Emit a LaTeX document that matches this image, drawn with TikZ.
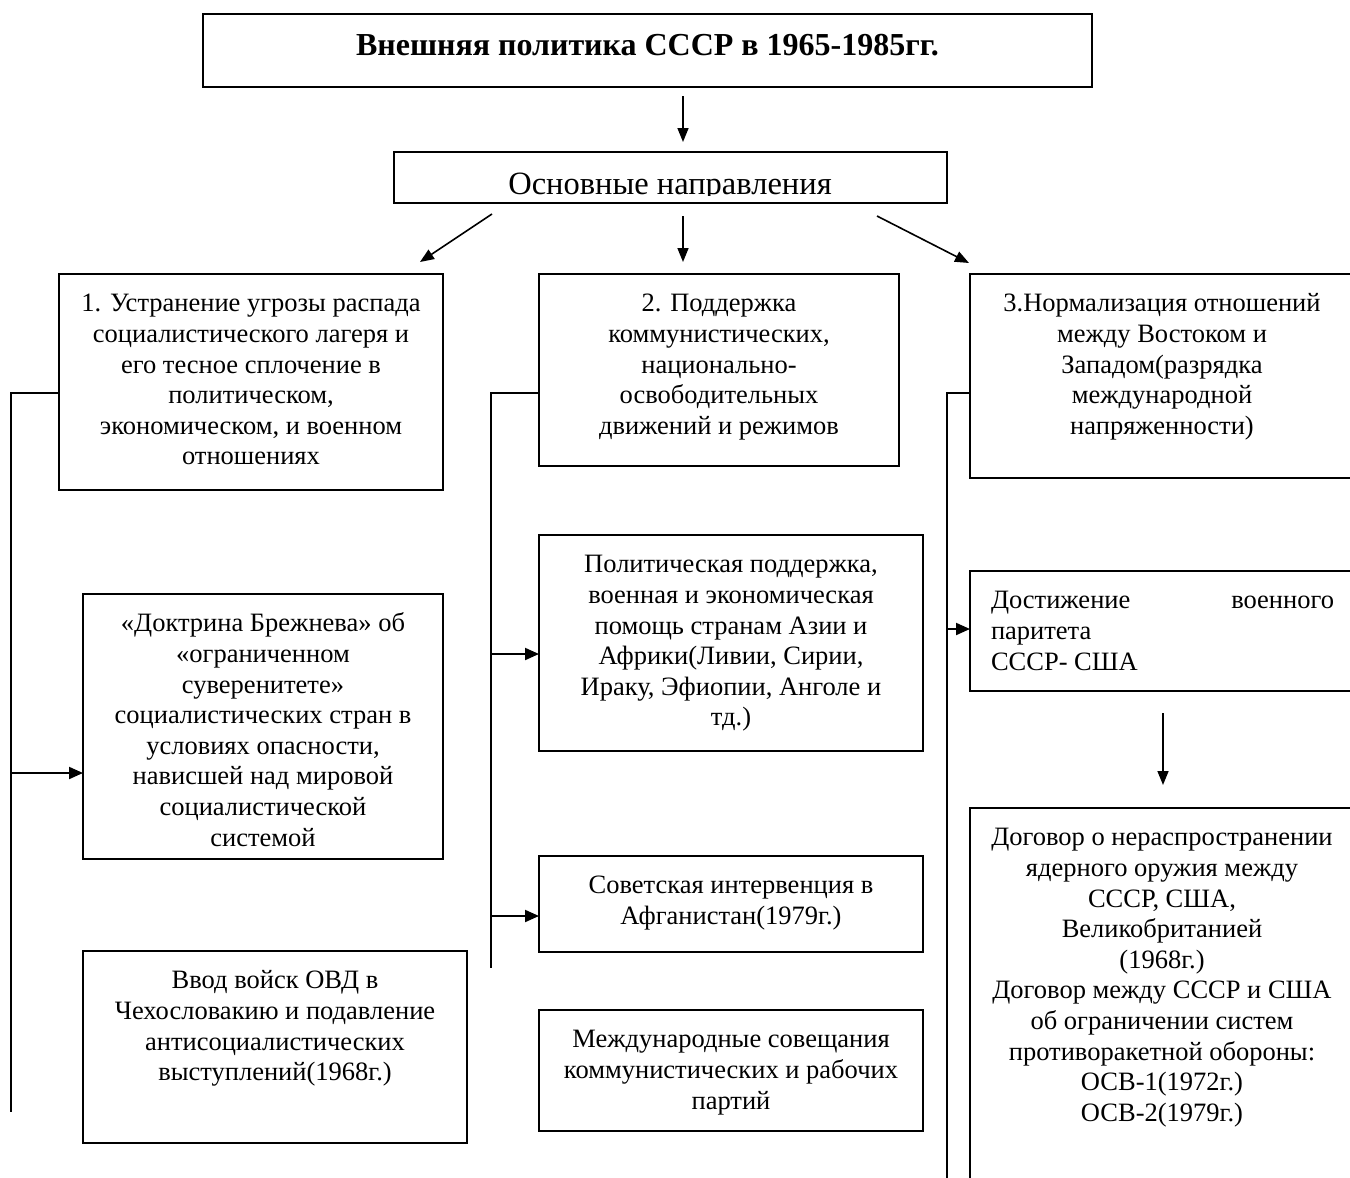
\documentclass[tikz,border=0pt]{standalone}
\usepackage{fontspec}
\setmainfont{Liberation Serif}
\usetikzlibrary{arrows.meta}
\newcommand{\fsz}{\fontsize{26.5}{30.6}\selectfont}
\newcommand{\bt}[3]{\parbox[c][#2][t]{#1}{\fsz\centering\vspace*{16.5pt}\strut #3}}
\begin{document}
\begin{tikzpicture}[x=1pt,y=-1pt,
  box/.style={draw, line width=2pt, inner sep=0pt, outer sep=0pt, anchor=north west},
  conn/.style={line width=2pt},
  arr/.style={line width=2pt, -{Triangle[length=14pt,width=12pt]}},
  arrthin/.style={line width=1.6pt, -{Triangle[length=14pt,width=11pt]}}]
\useasboundingbox (0,0) rectangle (1350,1178);
\fill[white] (0,0) rectangle (1350,1178);
% title
\node[box] (title) at (203,14) {\parbox[c][73pt][t]{889pt}{\fontsize{32}{36}\selectfont\bfseries\centering\vspace*{16pt}\strut Внешняя политика СССР в 1965-1985гг.}};
% main directions
\node[box, minimum width=553, minimum height=51] (osn) at (394,152) {};
\begin{scope}
\clip (394,152) rectangle (947,195);
\node[anchor=base, inner sep=0pt, font=\fontsize{32.5}{36}\selectfont] (osnt) at (670,194) {Основные направления};
\end{scope}
% top row
\node[box] (b1) at (59,274) {\bt{384pt}{216pt}{1. Устранение угрозы распада\\ социалистического лагеря и\\ его тесное сплочение в\\ политическом,\\ экономическом, и военном\\ отношениях}};
\node[box] (b2) at (539,274) {\bt{360pt}{192pt}{2. Поддержка\\ коммунистических,\\ национально-\\ освободительных\\ движений и режимов}};
\node[box] (b3) at (970,274) {\bt{384pt}{204pt}{3.Нормализация отношений\\ между Востоком и\\ Западом(разрядка\\ международной\\ напряженности)}};
% column 1
\node[box] (doc) at (83,594) {\bt{360pt}{265pt}{«Доктрина Брежнева» об\\ «ограниченном\\ суверенитете»\\ социалистических стран в\\ условиях опасности,\\ нависшей над мировой\\ социалистической\\ системой}};
\node[box] (vvod) at (83,951) {\bt{384pt}{192pt}{Ввод войск ОВД в\\ Чехословакию и подавление\\ антисоциалистических\\ выступлений(1968г.)}};
% column 2
\node[box] (pol) at (539,535) {\bt{384pt}{216pt}{Политическая поддержка,\\ военная и экономическая\\ помощь странам Азии и\\ Африки(Ливии, Сирии,\\ Ираку, Эфиопии, Анголе и\\ тд.)}};
\node[box] (sov) at (539,856) {\bt{384pt}{96pt}{Советская интервенция в\\ Афганистан(1979г.)}};
\node[box] (mezh) at (539,1010) {\bt{384pt}{121pt}{Международные совещания\\ коммунистических и рабочих\\ партий}};
% column 3
\node[box] (dost) at (970,571) {\parbox[c][120pt][t]{384pt}{\fsz\parindent=0pt\leftskip=21pt\vspace*{16.5pt}\strut\makebox[343pt][s]{Достижение\hfill военного}\\ паритета\\ СССР- США}};
\node[box] (dog) at (970,808) {\bt{384pt}{400pt}{Договор о нераспространении\\ ядерного оружия между\\ СССР, США,\\ Великобританией\\ (1968г.)\\ Договор между СССР и США\\ об ограничении систем\\ противоракетной обороны:\\ ОСВ-1(1972г.)\\ ОСВ-2(1979г.)}};
% coordinates
\coordinate (t1) at (683,96); \coordinate (t2) at (683,142);
\coordinate (l1s) at (492,214); \coordinate (l1e) at (420,262);
\coordinate (m1s) at (683,216); \coordinate (m1e) at (683,262);
\coordinate (r1s) at (877,216); \coordinate (r1e) at (969,263);
\coordinate (La) at (11,393); \coordinate (Lb) at (11,1112); \coordinate (Ld) at (11,773);
\coordinate (Ma) at (491,393); \coordinate (Mb) at (491,968); \coordinate (Mp) at (491,654); \coordinate (Ms) at (491,916);
\coordinate (Ra) at (947,393); \coordinate (Rb) at (947,1185); \coordinate (Rd) at (947,629);
\coordinate (dd1) at (1163,713); \coordinate (dd2) at (1163,785);
% connectors
\draw[arrthin] (t1) -- (t2);
\draw[arrthin] (l1s) -- (l1e);
\draw[arrthin] (m1s) -- (m1e);
\draw[arrthin] (r1s) -- (r1e);
\draw[conn] (b1.west |- La) -- (La) -- (Lb);
\draw[arr] (Ld) -- (Ld -| doc.west);
\draw[conn] (b2.west |- Ma) -- (Ma) -- (Mb);
\draw[arr] (Mp) -- (Mp -| pol.west);
\draw[arr] (Ms) -- (Ms -| sov.west);
\draw[conn] (b3.west |- Ra) -- (Ra) -- (Rb);
\draw[arr] (Rd) -- (Rd -| dost.west);
\draw[arrthin] (dd1) -- (dd2);
\end{tikzpicture}
\end{document}
